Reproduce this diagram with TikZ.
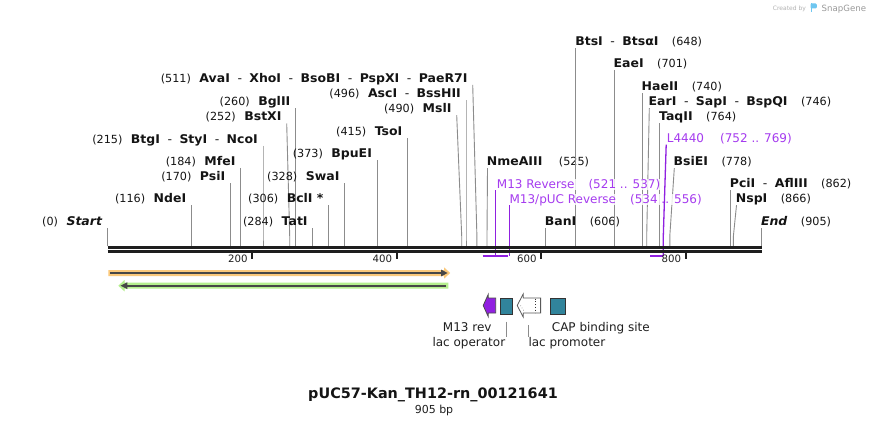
\documentclass[tikz,border=0pt]{standalone}
\usepackage{fontspec}
\setmainfont{DejaVu Sans}
\newfontfamily\bnmfont{DejaVu Sans}[FakeStretch=1.04]
\definecolor{bbk}{HTML}{1E1E1E}
\definecolor{connc}{HTML}{8C8C8C}
\definecolor{prp}{HTML}{A53BEF}
\definecolor{prpd}{HTML}{9020E0}
\definecolor{orf}{HTML}{FBC97B}
\definecolor{grf}{HTML}{B5EF8E}
\definecolor{tealc}{HTML}{31849B}
\definecolor{dline}{HTML}{474747}
\definecolor{logoc}{HTML}{6EC6F0}
\newcommand\nm[1]{{\bnmfont\fontsize{12}{14}\selectfont\bfseries #1}}
\newcommand\nb[1]{{\fontsize{11.2}{13}\selectfont #1}}
\newcommand\pn[1]{{\fontsize{12}{14}\selectfont #1}}
\newcommand\sepd{\hspace{7.6pt}{\mdseries -}\hspace{7.4pt}}
% left-hand site: id, line-top x, baseline, site x, number, name
\newcommand\lsite[6]{%
  \coordinate (#1s) at (#4,246);
  \draw[conn] (#2,#3+2.5) -- (#4,236) -- (#1s);
  \node[lbl,anchor=base east] (#1) at (#2-5,#3) {\nb{#5}\hspace{8.5pt}\nm{#6}};
}
% right-hand site: id, line-top x, baseline, site x, name, number
\newcommand\rsite[6]{%
  \coordinate (#1s) at (#4,246);
  \draw[conn] (#2,#3+2.5) -- (#4,236) -- (#1s);
  \node[lbl,anchor=base west] (#1) at (#2-0.8,#3) {\nm{#5}\hspace{13.5pt}\nb{#6}};
}
% primer: id, text x, baseline, line-top x, site x, name, range
\newcommand\psite[7]{%
  \coordinate (#1s) at (#5,255.7);
  \draw[prpline] (#4,#3+2) -- (#5,236) -- (#1s);
  \node[lbl,text=prp,anchor=base west,fill=white,fill opacity=0.8,text opacity=1] (#1) at (#2,#3) {\pn{#6}\hspace{14pt}\pn{#7}};
}
\begin{document}
\begin{tikzpicture}[x=1pt,y=-1pt,
  lbl/.style={inner sep=0pt,text=black!92},
  conn/.style={draw=connc,line width=0.9pt},
  prpline/.style={draw=prpd,line width=1.3pt},
  tickl/.style={inner sep=0pt,anchor=base east,text=black!88,font=\fontsize{10.2}{12}\selectfont},
  featl/.style={inner sep=0pt,anchor=base west,text=black!88,font=\fontsize{12}{14}\selectfont}]
\useasboundingbox (0,0) rectangle (870,425);
\fill[white] (0,0) rectangle (870,425);

% watermark
\node[inner sep=0pt,anchor=base west,text=black!30,font=\fontsize{6}{7}\selectfont] (wm1) at (772.7,11) {Created by};
\fill[logoc] (810.5,3.5) rectangle (812.3,12.5);
\fill[logoc,rounded corners=1.2pt] (810.5,3.5) -- (816.8,3.5) -- (816.8,8.5) -- (810.5,8.5) -- cycle;
\node[inner sep=0pt,anchor=base west,text=black!40,font=\fontsize{8.6}{10}\selectfont] (wm2) at (821.5,11.5) {SnapGene};

% left-hand sites
\lsite{start}{107.6}{225.7}{107.6}{(0)}{\textit{Start}}
\lsite{ndei}{191.4}{202.7}{191.4}{(116)}{NdeI}
\lsite{psii}{230.4}{180.7}{230.4}{(170)}{PsiI}
\lsite{mfei}{240.6}{165.3}{240.6}{(184)}{MfeI}
\lsite{ncoi}{263.0}{143.3}{263.0}{(215)}{BtgI\sepd StyI\sepd NcoI}
\lsite{bstxi}{286.7}{121.0}{289.7}{(252)}{BstXI}
\lsite{bglii}{295.5}{106.0}{295.5}{(260)}{BglII}
\lsite{tati}{312.8}{225.7}{312.8}{(284)}{TatI}
\lsite{bcli}{328.7}{202.7}{328.7}{(306)}{BclI *}
\lsite{swai}{344.6}{180.7}{344.6}{(328)}{SwaI}
\lsite{bpuei}{377.1}{157.7}{377.1}{(373)}{BpuEI}
\lsite{tsoi}{407.5}{135.7}{407.5}{(415)}{TsoI}
\lsite{msli}{456.7}{112.7}{461.7}{(490)}{MslI}
\lsite{asci}{466.0}{97.7}{466.0}{(496)}{AscI\sepd BssHII}
\lsite{avai}{472.7}{82.3}{476.9}{(511)}{AvaI\sepd XhoI\sepd BsoBI\sepd PspXI\sepd PaeR7I}

% right-hand sites
\rsite{nme}{487.5}{165.7}{487.0}{NmeAIII}{\hspace{3pt}(525)}
\rsite{bani}{545.5}{225.7}{545.5}{BanI}{(606)}
\rsite{btsi}{575.9}{45.7}{575.9}{BtsI\sepd BtsαI}{(648)}
\rsite{eaei}{614.2}{67.7}{614.2}{EaeI}{(701)}
\rsite{haeii}{642.3}{90.7}{642.3}{HaeII}{(740)}
\rsite{eari}{649.3}{105.7}{646.7}{EarI\sepd SapI\sepd BspQI}{(746)}
\rsite{taqii}{659.7}{120.7}{659.7}{TaqII}{(764)}
\rsite{bsiei}{674.3}{165.7}{669.8}{BsiEI}{(778)}
\rsite{pcii}{730.5}{187.7}{730.5}{PciI\sepd AflIII}{(862)}
\rsite{nspi}{736.5}{202.7}{733.4}{NspI}{(866)}
\rsite{endn}{761.6}{225.7}{761.6}{\textit{End}}{(905)}

% primers
\psite{m13r}{496.7}{188.0}{495.6}{495.6}{M13 Reverse}{(521 .. 537)}
\psite{m13p}{509.4}{203.0}{509.4}{509.4}{M13/pUC Reverse}{(534 .. 556)}
\psite{l44}{666.7}{142.7}{666.2}{663.3}{L4440}{\hspace{2pt}(752 .. 769)}
\draw[draw=prpd,line width=2.2pt] (482.7,255.7) -- (507.7,255.7);
\draw[draw=prpd,line width=2.2pt] (650.0,255.7) -- (662.8,255.7);

% backbone
\coordinate (b0) at (107.6,247.6);
\coordinate (b1) at (761.6,247.6);
\draw[bbk,line width=3pt] (b0) -- (b1);
\draw[bbk,line width=2.6pt] (107.6,251.7) -- (761.6,251.7);

% ticks
\foreach \x/\t in {252.1/200,396.6/400,541.1/600,685.7/800}{
  \draw[bbk,line width=1.8pt] (\x,252.5) -- (\x,259.3);
  \node[tickl] at (\x-4.3,262.7) {\t};
}

% ORF-like features
\fill[orf] (108.3,270) -- (444,270) -- (444,267.3) -- (450.2,273) -- (444,278.7) -- (444,276) -- (108.3,276) -- cycle;
\draw[dline,line width=2.2pt] (110,273) -- (442,273);
\fill[dline] (447.7,273) -- (441,269.6) -- (441,276.4) -- cycle;

\fill[grf] (448.3,282.7) -- (124.5,282.7) -- (124.5,280) -- (118.3,285.7) -- (124.5,291.4) -- (124.5,288.7) -- (448.3,288.7) -- cycle;
\draw[dline,line width=2.2pt] (446,285.7) -- (126,285.7);
\fill[dline] (120.6,285.7) -- (127.3,282.3) -- (127.3,289.1) -- cycle;

% bottom features
\filldraw[fill=prpd,draw=black!70,line width=0.8pt] (495.7,298) -- (488.2,298) -- (488.2,294.5) -- (483.2,305.5) -- (488.2,316.5) -- (488.2,313) -- (495.7,313) -- cycle;
\filldraw[fill=tealc,draw=black!80,line width=1pt] (500.6,298.2) rectangle (512.8,314.5);
\filldraw[fill=white,draw=black!65,line width=0.8pt] (540.6,298) -- (523.2,298) -- (523.2,294) -- (517.2,305.5) -- (523.2,317) -- (523.2,313) -- (540.6,313) -- cycle;
\draw[black!80,dotted,line width=0.8pt] (535.4,298.5) -- (535.4,312.5);
\draw[black!60,dotted,line width=0.6pt] (520.5,305.5) -- (524,311);
\filldraw[fill=tealc,draw=black!80,line width=1pt] (550.9,298.2) rectangle (565.1,314.5);

\node[featl] (m13rev) at (442.7,331.7) {M13 rev};
\node[featl] (lacop) at (432.3,346.7) {lac operator};
\node[featl] (lacpr) at (528.3,346.7) {lac promoter};
\node[featl] (cap) at (551.7,331.7) {CAP binding site};
\draw[connc,line width=0.9pt] (506,321.7) -- (506,336.7);
\draw[connc,line width=0.9pt] (528.3,325) -- (528.3,336.7);

% title
\node[inner sep=0pt,anchor=base,text=black!92,font=\fontsize{14.4}{16}\selectfont\bfseries] (title) at (433,398.3) {pUC57-Kan\_TH12-rn\_00121641};
\node[inner sep=0pt,anchor=base,text=black!88,font=\fontsize{11}{13}\selectfont] (bp) at (434,413.3) {905 bp};
\end{tikzpicture}
\end{document}
